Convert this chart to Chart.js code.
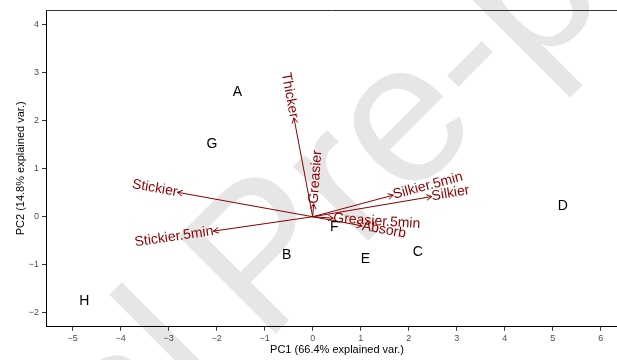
<!DOCTYPE html>
<html>
<head>
<meta charset="utf-8">
<script src="https://cdn.jsdelivr.net/npm/chart.js@4.4.1/dist/chart.umd.min.js"></script>
<style>
  html, body { margin: 0; padding: 0; background: #fff; overflow: hidden; }
</style>
</head>
<body>
<canvas id="biplot" width="617" height="360"></canvas>
<script>
// Muestras (scores PC1 / PC2)
const muestras = ["A", "B", "C", "D", "E", "F", "G", "H"];
const pc1 = [-1.57, -0.54, 2.19, 5.21, 1.10, 0.45, -2.10, -4.76];
const pc2 = [2.59, -0.80, -0.73, 0.22, -0.89, -0.22, 1.51, -1.75];

// Variables (cargas)
const variables = ["Thicker", "Greasier", "Stickier", "Stickier.5min", "Silkier.5min", "Silkier", "Greasier.5min", "Absorb"];
const cargaPC1 = [-0.39, 0.02, -2.82, -2.07, 1.68, 2.48, 0.43, 1.03];
const cargaPC2 = [2.06, 0.27, 0.51, -0.30, 0.45, 0.42, -0.03, -0.19];

// Ejes
const ticksX = [-5, -4, -3, -2, -1, 0, 1, 2, 3, 4, 5, 6];
const ticksY = [-2, -1, 0, 1, 2, 3, 4];
const tituloX = "PC1 (66.4% explained var.)";
const tituloY = "PC2 (14.8% explained var.)";
const marcaAgua = ["Journal", "Pre-proof"];

const ROJO = "#8b0000";
const FUENTE = "'Liberation Sans', Arial, sans-serif";

const fmtTick = (v) => (v < 0 ? "\u2212" + Math.abs(v) : String(v));

// marca de agua gris detrás de todo
const marcaAguaPlugin = {
  id: "marcaAgua",
  beforeDraw(chart) {
    const ctx = chart.ctx;
    ctx.save();
    ctx.fillStyle = "#fff";
    ctx.fillRect(0, 0, chart.width, chart.height);
    ctx.translate(264, 345);
    ctx.rotate(-Math.PI / 4);
    ctx.font = "200px " + FUENTE;
    ctx.fillStyle = "#e6e6e6";
    ctx.textBaseline = "alphabetic";
    ctx.textAlign = "right";
    ctx.fillText(marcaAgua[0], -43, 0);
    ctx.textAlign = "left";
    ctx.fillText(marcaAgua[1], 0, 0);
    ctx.restore();
  },
};

// puntas de flecha, nombres de variables y etiquetas de muestras
const etiquetasPlugin = {
  id: "etiquetas",
  afterDatasetsDraw(chart) {
    const ctx = chart.ctx;
    ctx.save();

    variables.forEach((nombre, i) => {
      const meta = chart.getDatasetMeta(i + 1);
      const p0 = meta.data[0], p1 = meta.data[1];
      const ang = Math.atan2(p1.y - p0.y, p1.x - p0.x);
      const L = 6, a = 0.5;
      ctx.strokeStyle = ROJO;
      ctx.lineWidth = 1;
      ctx.beginPath();
      ctx.moveTo(p1.x - L * Math.cos(ang - a), p1.y - L * Math.sin(ang - a));
      ctx.lineTo(p1.x, p1.y);
      ctx.lineTo(p1.x - L * Math.cos(ang + a), p1.y - L * Math.sin(ang + a));
      ctx.stroke();

      // el texto sigue la dirección de la flecha y arranca en la punta
      const dx = p1.x - p0.x, dy = p1.y - p0.y;
      ctx.save();
      ctx.translate(p1.x, p1.y);
      ctx.rotate(Math.atan(dy / dx));
      ctx.font = "14px " + FUENTE;
      ctx.fillStyle = ROJO;
      ctx.textBaseline = "middle";
      ctx.textAlign = dx > 0 ? "left" : "right";
      ctx.fillText(nombre, 0, 0);
      ctx.restore();
    });

    const pts = chart.getDatasetMeta(0).data;
    ctx.font = "14px " + FUENTE;
    ctx.fillStyle = "#000";
    ctx.textAlign = "center";
    ctx.textBaseline = "middle";
    muestras.forEach((m, i) => ctx.fillText(m, pts[i].x, pts[i].y));
    ctx.restore();
  },
  afterDraw(chart) {
    const ctx = chart.ctx;
    const area = chart.chartArea;
    ctx.save();
    ctx.strokeStyle = "#333";
    ctx.lineWidth = 1;
    ctx.beginPath();
    ctx.moveTo(area.left, Math.round(area.top) + 0.5);
    ctx.lineTo(area.right, Math.round(area.top) + 0.5);
    ctx.stroke();

    ctx.font = "11px " + FUENTE;
    ctx.fillStyle = "#000";
    ctx.textAlign = "center";
    ctx.textBaseline = "middle";
    ctx.fillText(tituloX, 337, 350);
    ctx.translate(21, (area.top + area.bottom) / 2);
    ctx.rotate(-Math.PI / 2);
    ctx.fillText(tituloY, 0, 0);
    ctx.restore();
  },
};

const datasets = [
  {
    label: "muestras",
    data: muestras.map((m, i) => ({ x: pc1[i], y: pc2[i] })),
    pointRadius: 0,
    showLine: false,
  },
];
variables.forEach((v, i) => {
  datasets.push({
    label: v,
    data: [{ x: 0, y: 0 }, { x: cargaPC1[i], y: cargaPC2[i] }],
    showLine: true,
    borderColor: ROJO,
    borderWidth: 1,
    pointRadius: 0,
  });
});

const ejeComun = {
  type: "linear",
  grid: { drawOnChartArea: false, drawTicks: true, tickLength: 4, color: "#333" },
  border: { display: true, color: "#000", width: 1 },
};

new Chart(document.getElementById("biplot"), {
  type: "scatter",
  data: { datasets },
  options: {
    responsive: false,
    animation: false,
    layout: { padding: { top: 10, right: 0, left: 0, bottom: 0 } },
    plugins: { legend: { display: false }, tooltip: { enabled: false } },
    scales: {
      x: {
        ...ejeComun,
        min: -5.556,
        max: 6.34,
        afterBuildTicks: (s) => { s.ticks = ticksX.map((v) => ({ value: v })); },
        afterFit: (s) => { s.height = 33.3; },
        ticks: { font: { family: FUENTE, size: 9 }, color: "#4d4d4d", padding: 2, maxRotation: 0, callback: fmtTick },
      },
      y: {
        ...ejeComun,
        min: -2.29,
        max: 4.306,
        afterBuildTicks: (s) => { s.ticks = ticksY.map((v) => ({ value: v })); },
        afterFit: (s) => { s.width = 46; },
        ticks: { font: { family: FUENTE, size: 9 }, color: "#4d4d4d", padding: 3, callback: fmtTick },
      },
    },
  },
  plugins: [marcaAguaPlugin, etiquetasPlugin],
});
</script>
</body>
</html>
